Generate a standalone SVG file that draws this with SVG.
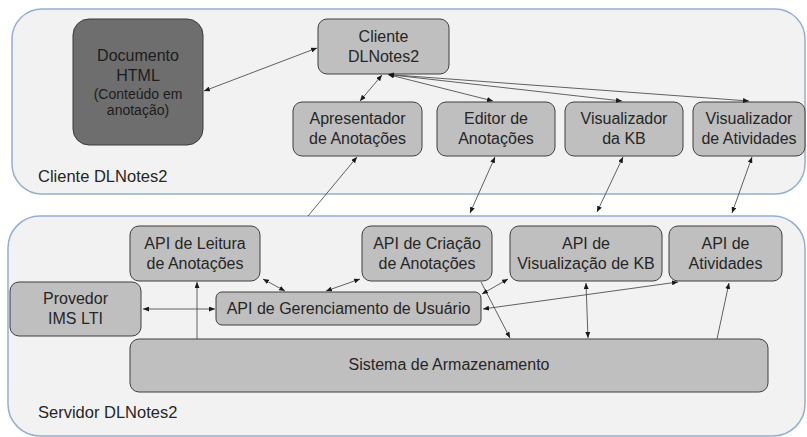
<svg xmlns="http://www.w3.org/2000/svg" width="807" height="437" viewBox="0 0 807 437">
<style>
.cont{fill:#f2f2f2;stroke:#94afd0;stroke-width:1.5}
.box{fill:#bfbfbf;stroke:#3f3f3f;stroke-width:1}
.dark{fill:#6e6e6e;stroke:#3a3a3a;stroke-width:1}
text{font-family:"Liberation Sans",Arial,sans-serif;font-size:16px;fill:#262626;text-anchor:middle}
.lbl{text-anchor:start;font-size:16.5px}
.sm{font-size:14px}
.dk{fill:#1c1c1c}
.c line{stroke:#505050;stroke-width:0.9;fill:none}
.b{marker-start:url(#ah);marker-end:url(#ah)}
.e{marker-end:url(#ah)}
</style>
<defs>
<marker id="ah" viewBox="0 0 6 5" refX="6" refY="2.5" markerWidth="6" markerHeight="5" markerUnits="userSpaceOnUse" orient="auto-start-reverse">
<path d="M0,0 L6,2.5 L0,5 z" fill="#1a1a1a"/>
</marker>
</defs>
<rect width="807" height="437" fill="#ffffff"/>
<g id="cliente-container">
<rect class="cont" x="12" y="9" width="793" height="185" rx="30"/>
<text class="lbl" x="38" y="182">Cliente DLNotes2</text>
</g>
<g id="servidor-container">
<rect class="cont" x="8" y="216" width="797" height="220" rx="32"/>
<text class="lbl" x="38" y="418">Servidor DLNotes2</text>
</g>
<g id="documento">
<rect class="dark" x="73" y="19" width="130" height="126" rx="16"/>
<text class="dk" x="138" y="61">Documento</text>
<text class="dk" x="138" y="81">HTML</text>
<text class="dk sm" x="138" y="99">(Conteúdo em</text>
<text class="dk sm" x="138" y="115">anotação)</text>
</g>
<g id="cliente">
<rect class="box" x="318" y="19" width="131" height="55" rx="9"/>
<text x="383.5" y="41.5">Cliente</text>
<text x="383.5" y="61.5">DLNotes2</text>
</g>
<g id="apresentador">
<rect class="box" x="293" y="102" width="129" height="54" rx="9"/>
<text x="357.5" y="124">Apresentador</text>
<text x="357.5" y="144">de Anotações</text>
</g>
<g id="editor">
<rect class="box" x="437" y="102" width="118" height="54" rx="9"/>
<text x="496" y="124">Editor de</text>
<text x="496" y="144">Anotações</text>
</g>
<g id="visualizador-kb">
<rect class="box" x="565" y="102" width="118" height="54" rx="9"/>
<text x="624" y="124">Visualizador</text>
<text x="624" y="144">da KB</text>
</g>
<g id="visualizador-atividades">
<rect class="box" x="693" y="102" width="112" height="54" rx="9"/>
<text x="749" y="124">Visualizador</text>
<text x="749" y="144">de Atividades</text>
</g>
<g id="api-leitura">
<rect class="box" x="130" y="226" width="130" height="55" rx="9"/>
<text x="195" y="248.5">API de Leitura</text>
<text x="195" y="268.5">de Anotações</text>
</g>
<g id="api-criacao">
<rect class="box" x="362" y="226" width="130" height="55" rx="9"/>
<text x="427" y="248.5">API de Criação</text>
<text x="427" y="268.5">de Anotações</text>
</g>
<g id="api-visualizacao-kb">
<rect class="box" x="510" y="226" width="152" height="55" rx="9"/>
<text x="586" y="248.5">API de</text>
<text x="586" y="268.5">Visualização de KB</text>
</g>
<g id="api-atividades">
<rect class="box" x="669" y="226" width="113" height="55" rx="9"/>
<text x="725.5" y="248.5">API de</text>
<text x="725.5" y="268.5">Atividades</text>
</g>
<g id="provedor">
<rect class="box" x="10" y="282" width="131" height="54" rx="9"/>
<text x="75.5" y="304">Provedor</text>
<text x="75.5" y="324">IMS LTI</text>
</g>
<g id="api-gerenciamento">
<rect class="box" x="216" y="292" width="265" height="33" rx="6"/>
<text x="348.5" y="314">API de Gerenciamento de Usuário</text>
</g>
<g id="sistema">
<rect class="box" x="130" y="339" width="638" height="53" rx="9"/>
<text x="449" y="370">Sistema de Armazenamento</text>
</g>
<g id="connectors" class="c">
<line class="b" x1="204" y1="91" x2="317" y2="48"/>
<line class="b" x1="382" y1="75" x2="360" y2="101"/>
<line class="b" x1="388" y1="74.5" x2="493" y2="101"/>
<line class="b" x1="388" y1="74.5" x2="622" y2="101"/>
<line class="b" x1="388" y1="74.5" x2="749" y2="101"/>
<line class="e" x1="308" y1="216" x2="357" y2="157"/>
<line class="b" x1="470" y1="213" x2="495" y2="157"/>
<line class="b" x1="597" y1="212" x2="623" y2="157"/>
<line class="b" x1="732" y1="213" x2="752" y2="157"/>
<line class="b" x1="143" y1="309" x2="215" y2="309"/>
<line class="e" x1="197" y1="339" x2="197" y2="282"/>
<line class="b" x1="263" y1="279" x2="285" y2="291"/>
<line class="b" x1="326" y1="291" x2="360" y2="279"/>
<line class="e" x1="481" y1="282" x2="510" y2="338"/>
<line class="b" x1="482" y1="294" x2="508" y2="279"/>
<line class="b" x1="483" y1="309" x2="678" y2="282"/>
<line class="b" x1="586" y1="283" x2="588" y2="338"/>
<line class="e" x1="717" y1="339" x2="729" y2="283"/>
</g>
</svg>
